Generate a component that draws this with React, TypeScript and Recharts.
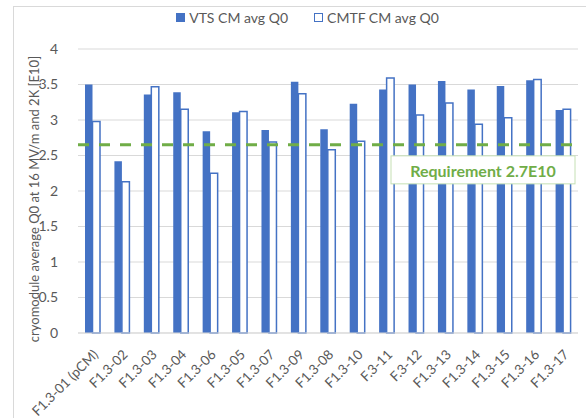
import { BarChart, Bar, XAxis, YAxis, CartesianGrid, Legend, ReferenceLine } from 'recharts';

const modules = [
  'F1.3-01 (pCM)', 'F1.3-02', 'F1.3-03', 'F1.3-04', 'F1.3-06', 'F1.3-05', 'F1.3-07', 'F1.3-09', 'F1.3-08',
  'F1.3-10', 'F.3-11', 'F.3-12', 'F1.3-13', 'F1.3-14', 'F1.3-15', 'F1.3-16', 'F1.3-17',
];
const vtsQ0 = [3.5, 2.42, 3.36, 3.39, 2.84, 3.11, 2.86, 3.54, 2.87, 3.23, 3.43, 3.5, 3.55, 3.43, 3.48, 3.56, 3.14];
const cmtfQ0 = [2.98, 2.13, 3.47, 3.15, 2.25, 3.12, 2.69, 3.37, 2.58, 2.7, 3.59, 3.07, 3.24, 2.94, 3.03, 3.57, 3.15];
const yTicks = [0, 0.5, 1, 1.5, 2, 2.5, 3, 3.5, 4];
const requirement = 2.65;
const requirementText = 'Requirement 2.7E10';

const data = modules.map((m, i) => ({ module: m, vts: vtsQ0[i], cmtf: cmtfQ0[i] }));

const BLUE = '#4472C4';
const GREEN = '#70AD47';
const GREY = '#595959';
const FONT = 'Lato, "Open Sans", sans-serif';

const XTick = ({ x, y, payload }: any) => (
  <g transform={`translate(${x + 3},${y + 11})`}>
    <text textAnchor="end" transform="rotate(-45)" fontSize={13.5} fill={GREY} fontFamily={FONT} dy="0.35em">
      {payload.value}
    </text>
  </g>
);

const RequirementLabel = ({ viewBox }: any) => {
  const right = viewBox.x + viewBox.width - 3;
  const w = 184;
  const top = viewBox.y + 11;
  return (
    <g>
      <rect x={right - w} y={top} width={w} height={28} fill="#fff" stroke="#C5E0B4" strokeWidth={1} />
      <text x={right - w / 2} y={top + 15} textAnchor="middle" dominantBaseline="central"
        fontSize={16} fontWeight="bold" fill={GREEN} fontFamily={FONT}>
        {requirementText}
      </text>
    </g>
  );
};

const LegendContent = () => (
  <div style={{ display: 'flex', justifyContent: 'center', gap: 26, fontFamily: FONT, fontSize: 14, color: GREY, paddingLeft: 24 }}>
    <span style={{ display: 'flex', alignItems: 'center' }}>
      <span style={{ width: 9, height: 9, background: BLUE, marginRight: 4 }} />VTS CM avg Q0
    </span>
    <span style={{ display: 'flex', alignItems: 'center' }}>
      <span style={{ width: 7, height: 7, border: `1.5px solid ${BLUE}`, background: '#fff', marginRight: 4 }} />CMTF CM avg Q0
    </span>
  </div>
);

export default function App() {
  return (
    <div style={{ position: 'absolute', left: 0, top: 0, width: 586, height: 418, overflow: 'hidden', background: '#fff' }}>
      <div style={{ position: 'absolute', left: 13, top: 6, width: 600, height: 430, border: '1px solid #d9d9d9' }} />
      <BarChart
        width={586}
        height={418}
        data={data}
        margin={{ top: 32, right: 8, bottom: 0, left: 13 }}
        barGap={0}
        style={{ position: 'absolute', left: 0, top: 0 }}
      >
        <CartesianGrid vertical={false} stroke="#d9d9d9" />
        <XAxis
          dataKey="module"
          interval={0}
          height={85}
          tick={<XTick />}
          tickLine={false}
          axisLine={{ stroke: '#d9d9d9' }}
        />
        <YAxis
          domain={[0, 4]}
          ticks={yTicks}
          width={65}
          tickLine={false}
          axisLine={false}
          tick={{ fontSize: 14, fill: GREY, fontFamily: FONT }}
          tickMargin={14}
          label={{
            value: 'cryomodule average Q0 at 16 MV/m and 2K [E10]',
            angle: -90,
            position: 'insideLeft',
            dx: 16,
            dy: 8,
            style: { fontSize: 13, fill: GREY, fontFamily: FONT, textAnchor: 'middle' },
          }}
        />
        <Legend verticalAlign="top" content={<LegendContent />} wrapperStyle={{ top: 9 }} />
        <Bar dataKey="vts" name="VTS CM avg Q0" fill={BLUE} barSize={7.5} isAnimationActive={false} />
        <Bar dataKey="cmtf" name="CMTF CM avg Q0" fill="#fff" stroke={BLUE} strokeWidth={1.5} barSize={7.5} isAnimationActive={false} />
        <ReferenceLine y={requirement} stroke={GREEN} strokeWidth={3} strokeDasharray="11 10" label={<RequirementLabel />} />
      </BarChart>
    </div>
  );
}
